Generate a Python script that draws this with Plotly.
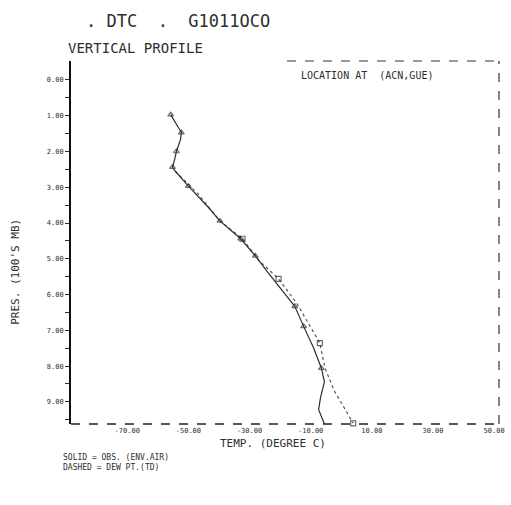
import plotly.graph_objects as go

# Environmental temperature sounding (solid) -- pressure in hundreds of mb
temp_c = [-55.8, -52.3, -52.6, -53.9, -54.5, -55.2, -54.2, -50.0, -43.5, -39.7,
          -32.9, -28.1, -24.2, -15.2, -12.3, -9.0, -6.5, -5.5, -6.8, -7.4, -5.5]
temp_p = [0.97, 1.47, 1.67, 2.00, 2.22, 2.44, 2.56, 2.97, 3.56, 3.94,
          4.44, 4.92, 5.36, 6.33, 6.89, 7.50, 8.06, 8.44, 8.89, 9.22, 9.62]
temp_mark = [1, 1, 0, 1, 0, 1, 0, 1, 0, 1, 1, 1, 0, 1, 1, 0, 1, 0, 0, 0, 0]

# Second (dashed) profile
dew_c = [-54.2, -46.8, -39.7, -32.3, -26.8, -20.5, -14.5, -9.7, -7.0, -5.3, -2.3, 0.6, 3.9]
dew_p = [2.56, 3.19, 3.94, 4.44, 5.06, 5.56, 6.25, 6.94, 7.36, 8.06, 8.69, 9.11, 9.60]
dew_mark = [0, 0, 0, 1, 0, 1, 0, 0, 1, 0, 0, 0, 1]

x_ticks = [-70, -50, -30, -10, 10, 30, 50]
x_labels = ["-70.00", "-50.00", "-30.00", "-10.00", "10.00", "30.00", "50.00"]
y_ticks = [0, 1, 2, 3, 4, 5, 6, 7, 8, 9]
y_labels = ["0.00", "1.00", "2.00", "3.00", "4.00", "5.00", "6.00", "7.00", "8.00", "9.00"]

ink = "#2e2e2e"
mono = "DejaVu Sans Mono"

# plot-area pixel geometry
L, R, T, B = 71, 505, 61, 424
W, H = 511, 505
pw, ph = R - L, B - T


def px(x):
    return (x - L) / pw


def py(y):
    return (B - y) / ph


fig = go.Figure()
fig.add_trace(go.Scatter(
    x=dew_c, y=dew_p, mode="lines+markers",
    line=dict(color="#555555", width=1.2, dash="dot"),
    marker=dict(symbol="square-open", size=[5 * m for m in dew_mark], color=ink, line=dict(width=1.2)),
    showlegend=False, hoverinfo="skip", cliponaxis=False))
fig.add_trace(go.Scatter(
    x=temp_c, y=temp_p, mode="lines+markers",
    line=dict(color=ink, width=1.2),
    marker=dict(symbol="triangle-up-open", size=[5 * m for m in temp_mark], color=ink, line=dict(width=1.2)),
    showlegend=False, hoverinfo="skip", cliponaxis=False))

fig.update_xaxes(
    range=[-88.4, 51.6], tickvals=x_ticks, ticktext=x_labels,
    showgrid=False, zeroline=False, showline=False,
    ticks="", ticklabelstandoff=1, tickfont=dict(family=mono, size=7, color=ink),
)
fig.update_yaxes(
    range=[9.62, -0.53], tickvals=y_ticks, ticktext=y_labels,
    showgrid=False, zeroline=False, showline=True, linecolor="#111111", linewidth=2,
    ticks="outside", ticklen=4, tickwidth=1.2, tickcolor=ink,
    minor=dict(tickvals=[v + 0.5 for v in y_ticks], ticks="outside", ticklen=4, tickcolor=ink),
    tickfont=dict(family=mono, size=7, color=ink),
)

# Frame: dashed bottom and right edges, partial top line over the location label
fig.add_shape(type="line", xref="paper", yref="paper", x0=0, x1=1, y0=0, y1=0,
              line=dict(color="#222222", width=1.6, dash="dash"))
fig.add_shape(type="line", xref="paper", yref="paper", x0=1, x1=1, y0=0, y1=1,
              line=dict(color="#333333", width=1.2, dash="dash"))
fig.add_shape(type="line", xref="paper", yref="paper", x0=px(290), x1=1, y0=1, y1=1,
              line=dict(color="#333333", width=1.2, dash="dash"))

notes = [
    dict(text="LOCATION AT  (ACN,GUE)", x=302, y=68, size=10),
    dict(text=". DTC  .  G1011OCO", x=84, y=9, size=17),
    dict(text="VERTICAL PROFILE", x=66, y=38, size=14),
]
for n in notes:
    fig.add_annotation(text=n["text"], xref="paper", yref="paper", x=px(n["x"]), y=py(n["y"]),
                       xanchor="left", yanchor="top", showarrow=False,
                       font=dict(family=mono, size=n["size"], color=ink))

fig.add_annotation(text="TEMP. (DEGREE C)", xref="paper", yref="paper", x=px(276), y=py(443),
                   xanchor="center", yanchor="middle", showarrow=False,
                   font=dict(family=mono, size=11, color=ink))
fig.add_annotation(text="PRES. (100'S MB)", xref="paper", yref="paper", x=px(14), y=py(272),
                   xanchor="center", yanchor="middle", textangle=-90, showarrow=False,
                   font=dict(family=mono, size=11, color=ink))
fig.add_annotation(text="SOLID = OBS. (ENV.AIR)<br>DASHED = DEW PT.(TD)", xref="paper", yref="paper",
                   x=px(61), y=py(451), xanchor="left", yanchor="top",
                   align="left", showarrow=False, font=dict(family=mono, size=8, color=ink))

fig.update_layout(
    width=W, height=H,
    margin=dict(l=L, r=W - R, t=T, b=H - B),
    paper_bgcolor="white", plot_bgcolor="white",
)

fig.write_html("out.html")
